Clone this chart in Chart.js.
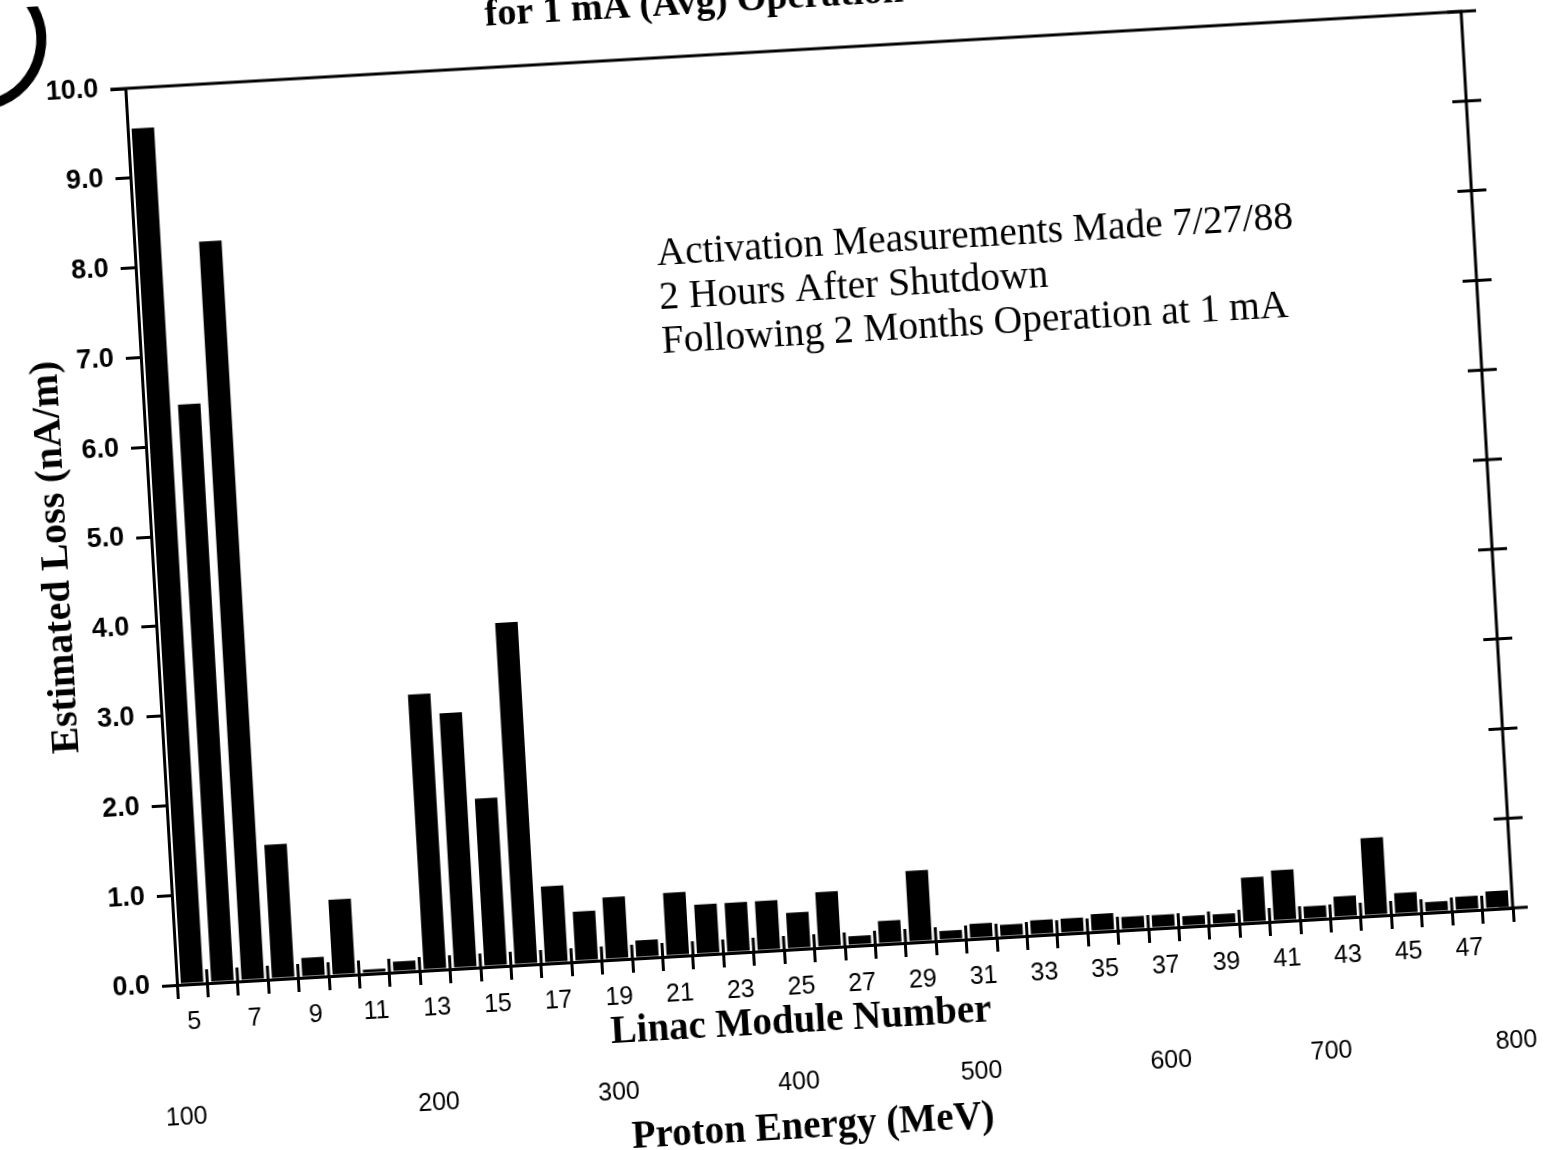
<!DOCTYPE html>
<html lang="en">
<head>
<meta charset="UTF-8">
<title>Estimated Loss by Linac Module</title>
<script src="https://cdn.jsdelivr.net/npm/chart.js"></script>
<style>
  html, body { margin: 0; padding: 0; background: #fff; overflow: hidden; width: 1549px; height: 1150px; }
  /* the scanned sheet sits a little skewed, so the whole drawing is turned about the plot origin */
  #page { position: absolute; left: 0; top: 0; width: 1600px; height: 1250px;
          transform-origin: 177px 985px; transform: rotate(-3.3deg); }
  canvas { display: block; }
</style>
</head>
<body>
<div id="page"><canvas id="chart" width="1600" height="1250"></canvas></div>

<script>
  const modules = [5, 6, 7, 8, 9, 10, 11, 12, 13, 14, 15, 16, 17, 18, 19, 20, 21, 22, 23, 24, 25, 26,
                   27, 28, 29, 30, 31, 32, 33, 34, 35, 36, 37, 38, 39, 40, 41, 42, 43, 44, 45, 46, 47, 48];
  const loss = [9.55, 6.45, 8.25, 1.50, 0.22, 0.85, 0.05, 0.12, 3.08, 2.85, 1.88, 3.82, 0.86, 0.56,
                0.70, 0.20, 0.71, 0.56, 0.56, 0.56, 0.41, 0.62, 0.11, 0.26, 0.80, 0.11, 0.17, 0.14,
                0.17, 0.17, 0.20, 0.15, 0.15, 0.12, 0.12, 0.51, 0.57, 0.15, 0.24, 0.87, 0.24, 0.12,
                0.16, 0.20];
  const energyLabels = ['100', '200', '300', '400', '500', '600', '700', '800'];
  // module position (in module units) under which each energy label sits
  const energyAt = [4.57, 12.88, 18.81, 24.74, 30.75, 37.0, 42.28, 48.37];
  const noteLines = ['Activation Measurements Made 7/27/88',
                     '2 Hours After Shutdown',
                     'Following 2 Months Operation at 1 mA'];

  const SERIF = '"Liberation Serif", "Times New Roman", serif';
  const SANS = '"Liberation Sans", Arial, sans-serif';

  const decor = {
    id: 'decor',
    afterDraw(chart) {
      const { ctx, chartArea: a, scales: { x, y } } = chart;
      ctx.save();
      ctx.strokeStyle = '#000';
      ctx.fillStyle = '#000';

      // top and right frame
      ctx.lineWidth = 3;
      ctx.beginPath();
      ctx.moveTo(a.left - 15, a.top);
      ctx.lineTo(a.right, a.top);
      ctx.lineTo(a.right, a.bottom);
      ctx.stroke();

      // right frame ticks cross the line, x boundary ticks poke up into the plot
      ctx.beginPath();
      for (let v = 0; v <= 10; v++) {
        const py = y.getPixelForValue(v);
        ctx.moveTo(a.right - 14, py);
        ctx.lineTo(a.right + 15, py);
      }
      const half = (x.getPixelForValue(1) - x.getPixelForValue(0)) / 2;
      for (let i = 1; i < modules.length; i++) {
        const px = x.getPixelForValue(i) - half;
        ctx.moveTo(px, a.bottom);
        ctx.lineTo(px, a.bottom - 14);
      }
      ctx.stroke();

      // proton energy scale
      ctx.textAlign = 'center';
      ctx.textBaseline = 'middle';
      ctx.font = '25px ' + SANS;
      energyLabels.forEach((t, i) => {
        ctx.fillText(t, x.getPixelForValue(energyAt[i] - modules[0]), a.bottom + 133);
      });

      ctx.font = 'bold 39px ' + SERIF;
      ctx.fillText('Linac Module Number', 798, a.bottom + 73);
      ctx.fillText('Proton Energy (MeV)', 804, a.bottom + 179);

      ctx.save();
      ctx.translate(82, 551);
      ctx.rotate(-Math.PI / 2);
      ctx.font = 'bold 40px ' + SERIF;
      ctx.fillText('Estimated Loss (nA/m)', 0, 0);
      ctx.restore();

      ctx.textAlign = 'left';
      ctx.font = '39.5px ' + SERIF;
      noteLines.forEach((t, i) => ctx.fillText(t, 698, 284 + i * 44));

      // title line, mostly off the top of the sheet
      ctx.textBaseline = 'alphabetic';
      ctx.font = 'bold 38px ' + SERIF;
      ctx.fillText('for 1 mA (Avg) Operation', 540, 45);

      // binder hole mark at the corner
      ctx.lineWidth = 10;
      ctx.beginPath();
      ctx.arc(30, 30, 66, -1.3, 1.35);
      ctx.stroke();

      ctx.restore();
    }
  };

  new Chart(document.getElementById('chart'), {
    type: 'bar',
    data: {
      labels: modules.map(String),
      datasets: [{
        data: loss,
        backgroundColor: '#000',
        borderWidth: 0,
        barPercentage: 0.74,
        categoryPercentage: 1.0
      }]
    },
    options: {
      responsive: false,
      devicePixelRatio: 1,
      animation: false,
      layout: { padding: { left: 0, top: 87, right: 85, bottom: 205 } },
      plugins: { legend: { display: false }, tooltip: { enabled: false }, title: { display: false } },
      scales: {
        x: {
          type: 'category',
          offset: true,
          grid: { offset: true, drawOnChartArea: false, tickLength: 14, lineWidth: 3, color: '#000' },
          border: { display: true, color: '#000', width: 3 },
          ticks: {
            autoSkip: false, maxRotation: 0, minRotation: 0, padding: 9, color: '#000',
            font: { family: SANS, size: 25 },
            callback: (v, i) => (modules[i] % 2 === 1 ? String(modules[i]) : '')
          },
          afterFit: s => { s.height = 60; }
        },
        y: {
          min: 0,
          max: 10,
          grid: { drawOnChartArea: false, tickLength: 15, lineWidth: 3, color: '#000' },
          border: { display: true, color: '#000', width: 3 },
          ticks: {
            stepSize: 1, padding: 12, color: '#000',
            font: { family: SANS, size: 27, weight: 'bold' },
            callback: v => v.toFixed(1)
          },
          afterFit: s => { s.width = 177; }
        }
      }
    },
    plugins: [decor]
  });
</script>
</body>
</html>
